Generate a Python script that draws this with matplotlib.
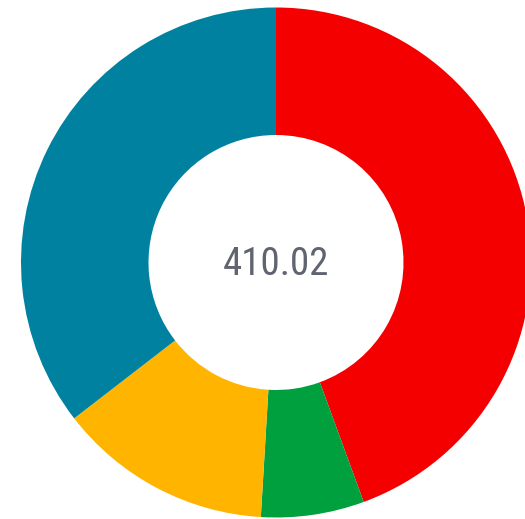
import matplotlib.pyplot as plt

# segment values, clockwise from 12 o'clock
labels = ["Red", "Green", "Yellow", "Blue"]
values = [182.1, 26.8, 55.7, 145.42]
colors = ["#F50000", "#00A03E", "#FFB400", "#00819F"]
center_label = "410.02"

W, H = 525, 519
cx, cy = 276, 262.5  # pixel centre of donut (from top-left)
r_out, r_in = 255, 127.5

fig = plt.figure(figsize=(W / 100, H / 100), dpi=100)
ax = fig.add_axes([0, 0, 1, 1])
ax.pie(
    values,
    colors=colors,
    startangle=90,
    counterclock=False,
    radius=r_out,
    wedgeprops=dict(width=r_out - r_in, linewidth=0),
)
ax.set_xlim(-cx, W - cx)
ax.set_ylim(-(H - cy), cy)
ax.set_aspect("equal")
ax.axis("off")

ax.text(0, -2, center_label, ha="center", va="center", fontsize=28,
        family=["Roboto Condensed", "DejaVu Sans"], fontstretch="condensed",
        color="#5F6470")

fig.savefig("out.png", dpi=100)
